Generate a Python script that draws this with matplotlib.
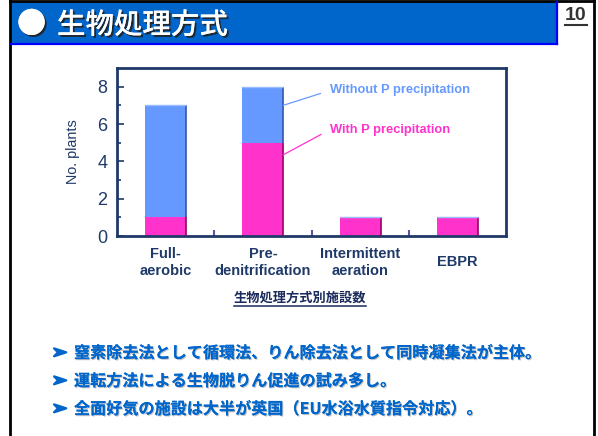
import matplotlib
matplotlib.use("Agg")
import matplotlib.pyplot as plt
import matplotlib.patheffects as pe
from matplotlib.patches import Rectangle
from matplotlib.lines import Line2D

# data
categories = ["Full-\naerobic", "Pre-\ndenitrification", "Intermittent\naeration", "EBPR"]
with_p = [1, 5, 1, 1]
without_p = [6, 3, 0, 0]
series_names = ["Without P precipitation", "With P precipitation"]
title = "生物処理方式"
page_no = "10"
caption = "生物処理方式別施設数"
bullets = [
    "窒素除去法として循環法、りん除去法として同時凝集法が主体。",
    "運転方法による生物脱りん促進の試み多し。",
    "全面好気の施設は大半が英国（EU水浴水質指令対応）。",
]

W, H = 598, 436
CJK = ["Noto Sans CJK JP", "DejaVu Sans"]
NAVY = "#1F3A68"
BLUE = "#6699FF"
PINK = "#FF33CC"


def fx(px):
    return px / W


def fy(py):
    return 1 - py / H


fig = plt.figure(figsize=(W / 100, H / 100), dpi=100)

# page frame
fig.add_artist(Line2D([fx(10), fx(10)], [0, 1], color="black", lw=2))
fig.add_artist(Line2D([fx(594), fx(594)], [0, 1], color="black", lw=2))
fig.add_artist(Line2D([fx(10), fx(594)], [fy(1), fy(1)], color="black", lw=2))

# header bar
fig.add_artist(Rectangle((fx(11), fy(44)), fx(545), 42 / H, facecolor="#0066CC",
                         edgecolor="none"))
fig.add_artist(Line2D([fx(11), fx(557)], [fy(44), fy(44)], color="#0000FF", lw=1.6))
fig.add_artist(Line2D([fx(557), fx(557)], [fy(44), fy(2)], color="#0000FF", lw=1.6))
shadow = [pe.withSimplePatchShadow(offset=(1.4, -1.4), shadow_rgbFace="#222222", alpha=0.9),
          pe.Normal()]
fig.text(fx(17), fy(25), "●", color="white", fontsize=21, family=CJK,
         va="center", ha="left", path_effects=shadow)
fig.text(fx(57), fy(25), title, color="white", fontsize=20.5, family=CJK,
         weight="medium", va="center", ha="left", path_effects=shadow)

pg = fig.text(fx(576), fy(16), page_no, color="#333333", fontsize=14,
              family="Liberation Sans", weight="bold", ha="center", va="center")

# chart
ax = fig.add_axes([fx(117), fy(236), fx(389), 168 / H])
x = list(range(len(categories)))
bw = 0.42
ax.bar(x, with_p, bw, color=PINK, linewidth=0, zorder=2)
ax.bar(x, without_p, bw, bottom=with_p, color=BLUE, linewidth=0, zorder=2)
tops = [a + b for a, b in zip(with_p, without_p)]
ax.vlines([i + bw / 2 for i in x], 0, with_p, color="#990066", lw=1.2, zorder=3)
ax.vlines([i + bw / 2 for i in x], with_p, tops, color="#3355AA", lw=1.2, zorder=3)
ax.hlines(tops, [i - bw / 2 for i in x], [i + bw / 2 for i in x],
          color="#99BBFF", lw=1, zorder=3)

ax.set_xlim(-0.5, 3.5)
ax.set_ylim(0, 9)
ax.set_yticks([0, 2, 4, 6, 8])
ax.set_yticks([1, 3, 5, 7], minor=True)
ax.set_xticks(x)
ax.set_xticks([0.5, 1.5, 2.5], minor=True)
ax.set_xticklabels(categories, fontsize=10.5, weight="bold", color=NAVY,
                   family="Liberation Sans", linespacing=1.3)
for lb in ax.get_xticklabels():
    lb.set_va("center")
ax.tick_params(axis="x", which="major", length=0, pad=19)
ax.tick_params(axis="x", which="minor", direction="in", length=4, color="#5555AA", width=1.5)
ax.tick_params(axis="y", which="both", direction="in", color=NAVY, width=1.2,
               labelsize=13, labelcolor=NAVY)
ax.tick_params(axis="y", which="major", length=5, pad=7)
ax.tick_params(axis="y", which="minor", length=3)
for lb in ax.get_yticklabels():
    lb.set_family("Liberation Sans")
for s in ax.spines.values():
    s.set_color(NAVY)
    s.set_linewidth(2)
ax.set_ylabel("No. plants", fontsize=10.4, color=NAVY, family="Liberation Sans", labelpad=12)

# series labels with leader lines
ax.annotate(series_names[0], xy=(1 + bw / 2, 7.0), xytext=(1.69, 7.8),
            fontsize=9.3, weight="bold", color=BLUE, family="Liberation Sans",
            va="center", ha="left",
            arrowprops=dict(arrowstyle="-", color=BLUE, lw=0.9, relpos=(0, 0.5),
                            shrinkA=5, shrinkB=0))
ax.annotate(series_names[1], xy=(1 + bw / 2, 4.35), xytext=(1.69, 5.7),
            fontsize=9.3, weight="bold", color=PINK, family="Liberation Sans",
            va="center", ha="left",
            arrowprops=dict(arrowstyle="-", color=PINK, lw=0.9, relpos=(0, 0.5),
                            shrinkA=5, shrinkB=0))

cap = fig.text(fx(300), fy(298), caption, fontsize=9.5, weight="bold", color="#1A2A5A",
               family=CJK, ha="center", va="center")

# bullet list
for i, t in enumerate(bullets):
    y = fy(353 + 28 * i)
    fig.text(fx(52), y, "➢", fontsize=13, color="#0066CC", family=["DejaVu Sans"],
             weight="bold", ha="left", va="center",
             path_effects=[pe.withStroke(linewidth=1.6, foreground="#0066CC")])
    fig.text(fx(74), y, t, fontsize=11.6, weight="bold", color="#0066CC", family=CJK,
             ha="left", va="center",
             path_effects=[pe.withSimplePatchShadow(offset=(0.8, -0.8),
                                                    shadow_rgbFace="#888888", alpha=0.5),
                           pe.Normal()])

# underlines
fig.canvas.draw()
r = fig.canvas.get_renderer()
for t, c, lw in [(pg, "#333333", 1.5), (cap, "#1A2A5A", 1.1)]:
    bb = t.get_window_extent(r)
    fig.add_artist(Line2D([bb.x0 / W, bb.x1 / W], [(bb.y0 - 1) / H, (bb.y0 - 1) / H],
                          color=c, lw=lw))

fig.savefig("out.png", dpi=100)
